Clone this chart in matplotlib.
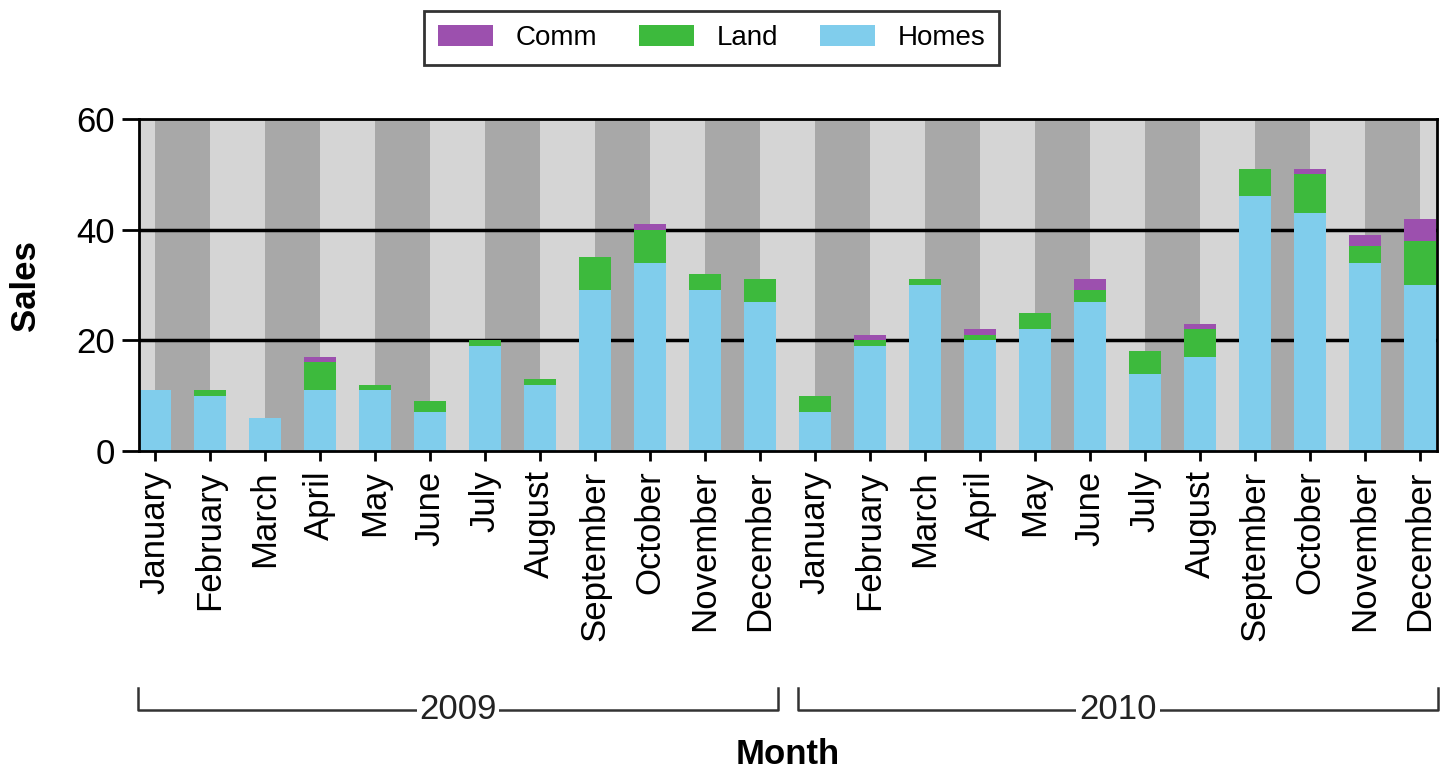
import matplotlib.pyplot as plt
import matplotlib.transforms as mtransforms
import numpy as np

plt.rcParams['font.family'] = ['Liberation Sans', 'DejaVu Sans']

months = ['January', 'February', 'March', 'April', 'May', 'June', 'July',
          'August', 'September', 'October', 'November', 'December'] * 2
years = ['2009', '2010']

homes = [11, 10, 6, 11, 11, 7, 19, 12, 29, 34, 29, 27,
         7, 19, 30, 20, 22, 27, 14, 17, 46, 43, 34, 30]
land = [0, 1, 0, 5, 1, 2, 1, 1, 6, 6, 3, 4,
        3, 1, 1, 1, 3, 2, 4, 5, 5, 7, 3, 8]
comm = [0, 0, 0, 1, 0, 0, 0, 0, 0, 1, 0, 0,
        0, 1, 0, 1, 0, 2, 0, 1, 0, 1, 2, 4]

c_homes = '#80cdec'
c_land = '#3dba3d'
c_comm = '#9c50ae'

fig = plt.figure(figsize=(14.46, 7.73), dpi=100)
ax = fig.add_axes([0.0961, 0.4166, 0.8977, 0.4295])

x = np.arange(len(months))
homes = np.array(homes)
land = np.array(land)
comm = np.array(comm)

# alternating background stripes, switching at the tick positions
ax.axvspan(-1, 0, color='#d5d5d5', zorder=0, lw=0)
for i in range(len(months)):
    col = '#a8a8a8' if i % 2 == 0 else '#d5d5d5'
    ax.axvspan(i, i + 1, color=col, zorder=0, lw=0)

for yv in [20, 40]:
    ax.axhline(yv, color='black', lw=2.5, zorder=1)

w = 0.58
ax.bar(x, homes, w, color=c_homes, label='Homes', zorder=2)
ax.bar(x, land, w, bottom=homes, color=c_land, label='Land', zorder=2)
ax.bar(x, comm, w, bottom=homes + land, color=c_comm, label='Comm', zorder=2)

ax.set_xlim(-0.29, 23.31)
ax.set_ylim(0, 60)
ax.set_yticks([0, 20, 40, 60])
ax.set_xticks(x)
ax.set_xticklabels(months, rotation=90, fontsize=25)
ax.tick_params(axis='y', labelsize=25, length=12, width=2, pad=5)
ax.tick_params(axis='x', length=7, width=2, pad=7)
for s in ax.spines.values():
    s.set_linewidth(2)

# y label placed by hand so it sits where the reference has it
fig.text(0.0175, 0.631, 'Sales', rotation=90, ha='center', va='center',
         fontsize=25, fontweight='bold')

# year brackets under the month labels
trans = mtransforms.blended_transform_factory(ax.transData, ax.transAxes)
for k, yr in enumerate(years):
    x0 = k * 12 - 0.31
    x1 = k * 12 + 11.33
    ax.plot([x0, x0, x1, x1], [-0.714, -0.78, -0.78, -0.714], color='#333333',
            lw=1.8, transform=trans, clip_on=False)
    ax.text((x0 + x1) / 2, -0.78, yr, transform=trans, ha='center', va='center',
            fontsize=25, color='#222222',
            bbox=dict(facecolor='white', edgecolor='none', pad=2))

fig.text(0.545, 0.024, 'Month', ha='center', va='center', fontsize=25,
         fontweight='bold')

handles, labels = ax.get_legend_handles_labels()
leg = fig.legend(handles[::-1], labels[::-1], loc='center',
                 bbox_to_anchor=(0.492, 0.951), ncol=3, fontsize=20,
                 fancybox=False, edgecolor='black', handlelength=2.0,
                 handleheight=0.8, columnspacing=1.5, borderpad=0.5,
                 handletextpad=0.8)
leg.get_frame().set_linewidth(2)

fig.savefig('out.png', dpi=100)
